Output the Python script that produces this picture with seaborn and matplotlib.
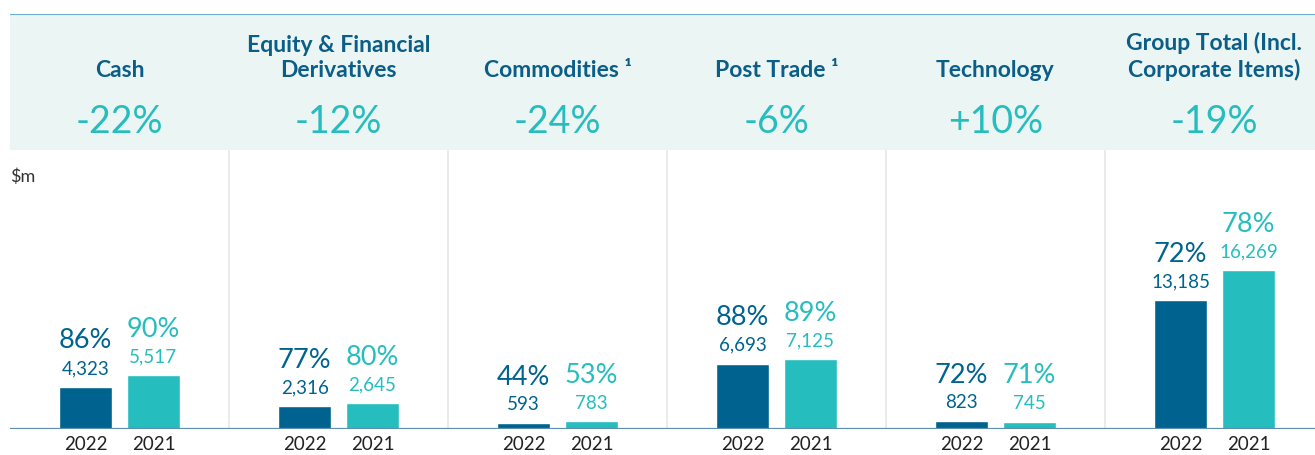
import pandas as pd
import matplotlib.pyplot as plt
import seaborn as sns
from matplotlib.transforms import blended_transform_factory

# data
segments = ["Cash", "Equity & Financial\nDerivatives", "Commodities \u00b9",
            "Post Trade \u00b9", "Technology", "Group Total (Incl.\nCorporate Items)"]
change = ["-22%", "-12%", "-24%", "-6%", "+10%", "-19%"]
years = ["2022", "2021"]
values_2022 = [4323, 2316, 593, 6693, 823, 13185]
values_2021 = [5517, 2645, 783, 7125, 745, 16269]
margin_2022 = ["86%", "77%", "44%", "88%", "72%", "72%"]
margin_2021 = ["90%", "80%", "53%", "89%", "71%", "78%"]

DARK = "#00638F"
TEAL = "#26BDBF"
TITLE = "#0B5E88"
MINT = "#EBF5F3"

df = pd.DataFrame({
    "segment": segments * 2,
    "year": [years[0]] * 6 + [years[1]] * 6,
    "value": values_2022 + values_2021,
})

sns.set_theme(style="white")
plt.rcParams["font.family"] = ["Lato", "DejaVu Sans"]

W, H = 1315, 455
fig = plt.figure(figsize=(W / 100, H / 100), dpi=100)

# body axes: x 10..1315 px, y 150..429 px
ax = fig.add_axes([10 / W, 1 - 429 / H, 1305 / W, 279 / H])
sns.barplot(data=df, x="segment", y="value", hue="year", hue_order=years,
            palette=[DARK, TEAL], width=0.62, gap=0.22, legend=False,
            saturation=1, ax=ax)
ax.set_xlim(-0.5, -0.5 + 1305 / 219)
ax.set_ylim(0, 28550)
ax.set_xticks([])
ax.set_yticks([])
ax.set_xlabel("")
ax.set_ylabel("")
for s in ax.spines.values():
    s.set_visible(False)
ax.axhline(0, color="#5D8FB0", lw=1.6, zorder=5)
for i in range(5):
    ax.axvline(i + 0.5, color="#E6E6E6", lw=1.2, zorder=0)
ax.text(0, 0.905, "$m", transform=ax.transAxes, fontsize=13, color="#333333",
        ha="left", va="center")

# labels above and below each bar
xt = blended_transform_factory(ax.transData, ax.transAxes)
for cont, margins, color, yr in zip(ax.containers, [margin_2022, margin_2021],
                                    [DARK, TEAL], years):
    for bar, m in zip(cont.patches, margins):
        cx = bar.get_x() + bar.get_width() / 2
        top = bar.get_height()
        ax.annotate(f"{top:,.0f}", (cx, top), xytext=(0, 7), textcoords="offset points",
                    ha="center", va="bottom", fontsize=13.5, color=color)
        ax.annotate(m, (cx, top), xytext=(0, 24), textcoords="offset points",
                    ha="center", va="bottom", fontsize=19.5, color=color)
        ax.text(cx, -0.057, yr, transform=xt, ha="center", va="center",
                fontsize=13.5, color="#222222", clip_on=False)

# header band: y 14..150 px
hx = fig.add_axes([10 / W, 1 - 150 / H, 1305 / W, 136 / H])
hx.set_facecolor(MINT)
hx.set_xlim(ax.get_xlim())
hx.set_ylim(0, 1)
hx.set_xticks([])
hx.set_yticks([])
for s in hx.spines.values():
    s.set_visible(False)
hx.axhline(1, color="#6AAED0", lw=1.5)
for i, (name, ch) in enumerate(zip(segments, change)):
    hx.text(i, 0.537, name, ha="center", va="baseline", fontsize=16.5,
            fontweight="bold", color=TITLE, linespacing=1.25)
    hx.text(i, 0.205, ch, ha="center", va="center", fontsize=27,
            fontweight="normal", color=TEAL)

fig.savefig("out.png", dpi=100)
